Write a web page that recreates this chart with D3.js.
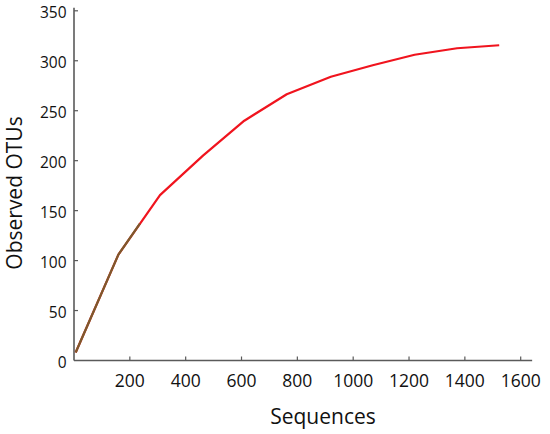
<!DOCTYPE html>
<html><head><meta charset="utf-8">
<script src="https://cdn.jsdelivr.net/npm/d3@7"></script>
<style>body{margin:0;background:#fff}svg{display:block}</style>
</head><body>
<svg id="c" width="550" height="434"></svg>
<script>
// Data
const seqRed   = [6, 159, 308, 462, 610, 762, 920, 1070, 1220, 1372, 1523];
const otuRed   = [8, 106, 165.5, 205, 240, 266.5, 284, 295.5, 306, 312.5, 315.5];
const seqBrown = [6, 159, 236];
const otuBrown = [8, 106, 137];
const xTicks = [200, 400, 600, 800, 1000, 1200, 1400, 1600];
const yTicks = [0, 50, 100, 150, 200, 250, 300, 350];

const svg = d3.select("#c");
const font = "'Open Sans', sans-serif";
const x = d3.scaleLinear().domain([0, 1600]).range([74, 520.7]);
const y = d3.scaleLinear().domain([0, 350]).range([360.5, 10.8]);

const axisColor = "#5a5a5a";
// axis lines
svg.append("line").attr("x1", x(0)).attr("x2", x(1641)).attr("y1", y(0)).attr("y2", y(0))
  .attr("stroke", axisColor).attr("stroke-width", 1.6);
svg.append("line").attr("x1", x(0)).attr("x2", x(0)).attr("y1", y(0)).attr("y2", y(353))
  .attr("stroke", axisColor).attr("stroke-width", 1.6);

// x ticks (pointing up)
const xa = svg.append("g");
xTicks.forEach(t => {
  xa.append("line").attr("x1", x(t)).attr("x2", x(t)).attr("y1", y(0)).attr("y2", y(0) - 4)
    .attr("stroke", axisColor).attr("stroke-width", 1.2);
  xa.append("text").attr("x", x(t)).attr("y", 386.5).attr("text-anchor", "middle")
    .attr("font-family", font).attr("font-size", 17.5).attr("fill", "#111").text(t);
});
// y ticks (pointing right)
const ya = svg.append("g");
yTicks.forEach(t => {
  if (t > 0) ya.append("line").attr("x1", x(0)).attr("x2", x(0) + 4).attr("y1", y(t)).attr("y2", y(t))
    .attr("stroke", axisColor).attr("stroke-width", 1.2);
  ya.append("text").attr("x", 66.5).attr("y", y(t) + 7).attr("text-anchor", "end")
    .attr("font-family", font).attr("font-size", 15.5).attr("fill", "#111").text(t);
});

const line = d3.line().x(d => x(d[0])).y(d => y(d[1]));
svg.append("path").datum(seqRed.map((s, i) => [s, otuRed[i]]))
  .attr("d", line).attr("fill", "none").attr("stroke", "#f0141e").attr("stroke-width", 2.2)
  .attr("stroke-linejoin", "round");
svg.append("path").datum(seqBrown.map((s, i) => [s, otuBrown[i]]))
  .attr("d", line).attr("fill", "none").attr("stroke", "#7c5a2c").attr("stroke-width", 2.2)
  .attr("stroke-linejoin", "round");

// axis titles
svg.append("text").attr("x", 323).attr("y", 424).attr("text-anchor", "middle")
  .attr("font-family", font).attr("font-size", 21).attr("fill", "#111").text("Sequences");
svg.append("text").attr("transform", "translate(22,193) rotate(-90)").attr("text-anchor", "middle")
  .attr("font-family", font).attr("font-size", 21).attr("fill", "#111").text("Observed OTUs");
</script>
</body></html>
